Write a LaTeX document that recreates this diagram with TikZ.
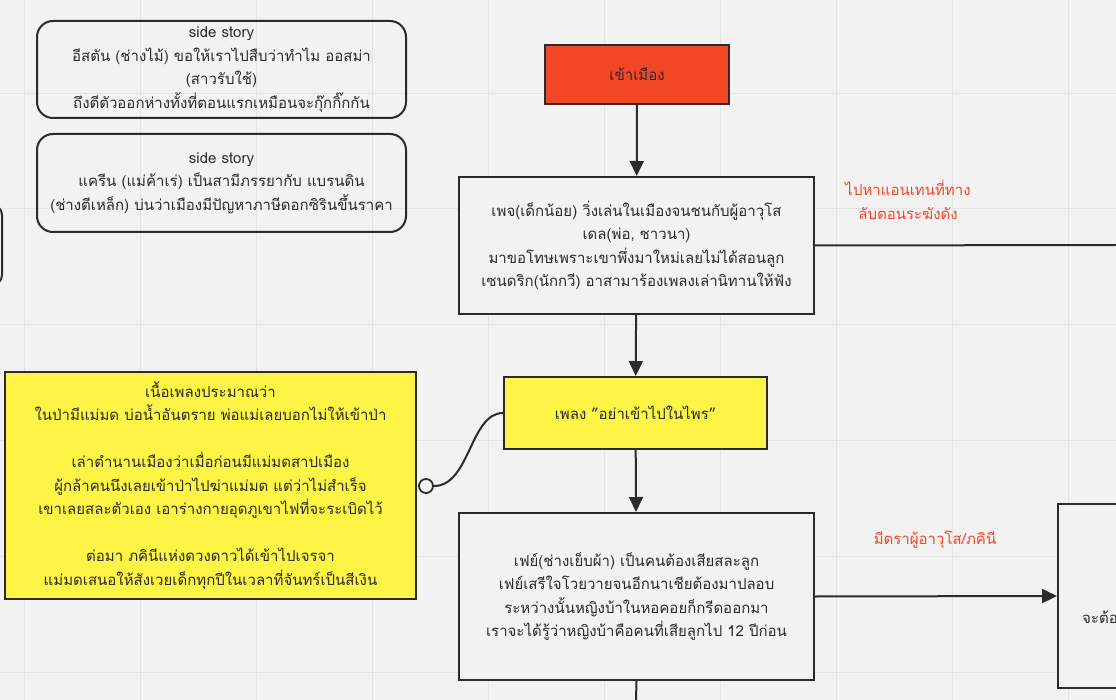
\documentclass[tikz,border=0pt]{standalone}
\usepackage{fontspec}
\setmainfont[Script=Thai]{Loma}
\usetikzlibrary{arrows.meta}
\definecolor{bg}{HTML}{F2F2F2}
\definecolor{gridc}{HTML}{E4E4E4}
\definecolor{ink}{HTML}{2B2B2B}
\definecolor{redfill}{HTML}{F24726}
\definecolor{yel}{HTML}{FEF445}
\definecolor{lab}{HTML}{F24726}
\begin{document}
\begin{tikzpicture}[x=1pt,y=-1pt,
  box/.style={draw=ink,line width=2pt,align=center,inner sep=0pt,text=ink,font=\fontsize{15}{23.5}\selectfont},
  arr/.style={draw=ink,line width=2pt,-{Triangle[length=15pt,width=14pt]}},
  lbl/.style={text=lab,font=\fontsize{15}{23.5}\selectfont,align=center}]
\fill[bg] (0,0) rectangle (1116,700);
\useasboundingbox (0,0) rectangle (1116,700);
\foreach \x in {24,140,256,372,488,604,720,836,952,1068} \draw[gridc,line width=0.8pt] (\x,0) -- (\x,700);
\foreach \y in {-23,93,208,324,440,556,672} \draw[gridc,line width=0.8pt] (0,\y) -- (1116,\y);

\node[box,rounded corners=16pt,minimum width=369pt,minimum height=97pt] (s1) at (221.5,69.5)
 {side story\\อีสตัน (ช่างไม้) ขอให้เราไปสืบว่าทำไม ออสม่า\\(สาวรับใช้)\\ถึงตีตัวออกห่างทั้งที่ตอนแรกเหมือนจะกุ๊กกิ๊กกัน};
\node[box,rounded corners=16pt,minimum width=369pt,minimum height=98pt] (s2) at (221.5,183)
 {side story\\แครีน (แม่ค้าเร่) เป็นสามีภรรยากับ แบรนดิน\\(ช่างตีเหล็ก) บ่นว่าเมืองมีปัญหาภาษีดอกซิรินขึ้นราคา};
\draw[ink,line width=2pt,rounded corners=10pt] (-30,205) rectangle (2,285);

\node[box,fill=redfill,minimum width=184pt,minimum height=59pt] (a) at (637,74.5) {เข้าเมือง};
\node[box,fill=bg,minimum width=355pt,minimum height=137pt] (b) at (636.5,245.5)
 {เพจ(เด็กน้อย) วิ่งเล่นในเมืองจนชนกับผู้อาวุโส\\เดล(พ่อ, ชาวนา)\\มาขอโทษเพราะเขาพึ่งมาใหม่เลยไม่ได้สอนลูก\\เซนดริก(นักกวี) อาสามาร้องเพลงเล่านิทานให้ฟัง};
\node[box,fill=yel,minimum width=263pt,minimum height=72pt] (c) at (635.5,413) {เพลง "อย่าเข้าไปในไพร"};
\node[box,fill=yel,minimum width=411pt,minimum height=227pt] (l) at (210.5,485.5)
 {เนื้อเพลงประมาณว่า\\ในป่ามีแม่มด บ่อน้ำอันตราย พ่อแม่เลยบอกไม่ให้เข้าป่า\\[23.5pt]เล่าตำนานเมืองว่าเมื่อก่อนมีแม่มดสาปเมือง\\ผู้กล้าคนนึงเลยเข้าป่าไปฆ่าแม่มด แต่ว่าไม่สำเร็จ\\เขาเลยสละตัวเอง เอาร่างกายอุดภูเขาไฟที่จะระเบิดไว้\\[23.5pt]ต่อมา ภคินีแห่งดวงดาวได้เข้าไปเจรจา\\แม่มดเสนอให้สังเวยเด็กทุกปีในเวลาที่จันทร์เป็นสีเงิน};
\node[box,fill=bg,minimum width=355pt,minimum height=167pt] (d) at (636.5,596.5)
 {เฟย์(ช่างเย็บผ้า) เป็นคนต้องเสียสละลูก\\เฟย์เสรีใจโวยวายจนอีกนาเชียต้องมาปลอบ\\ระหว่างนั้นหญิงบ้าในหอคอยก็กรีดออกมา\\เราจะได้รู้ว่าหญิงบ้าคือคนที่เสียลูกไป 12 ปีก่อน};
\node[box,fill=bg,minimum width=120pt,minimum height=184pt,anchor=west] (e) at (1057,596) {};
\node[text=ink,font=\fontsize{15}{23.5}\selectfont,anchor=west,inner sep=0pt] (et) at (1082,617) {จะต้อง};

\coordinate (bout) at (1116,245);
\coordinate (dout) at (636,700);
\draw[arr] (a) -- (b);
\draw[ink,line width=2pt] (b.east) -- (bout);
\node[lbl] (lb) at (908,200) {ไปหาแอนเทนที่ทาง\\ลับตอนระฆังดัง};
\draw[arr] (b) -- (c);
\draw[arr] (c) -- (d);
\draw[arr] (d.east) -- (e.west);
\node[lbl] (ld) at (935,540) {มีตราผู้อาวุโส/ภคินี};
\draw[ink,line width=2pt] (d.south) -- (dout);
\node[circle,draw=ink,fill=bg,line width=1.8pt,minimum size=14pt,inner sep=0pt] (o) at (426,486) {};
\draw[ink,line width=2pt] (c.west) .. controls (470,413) and (470,486) .. (o.east);
\end{tikzpicture}
\end{document}
